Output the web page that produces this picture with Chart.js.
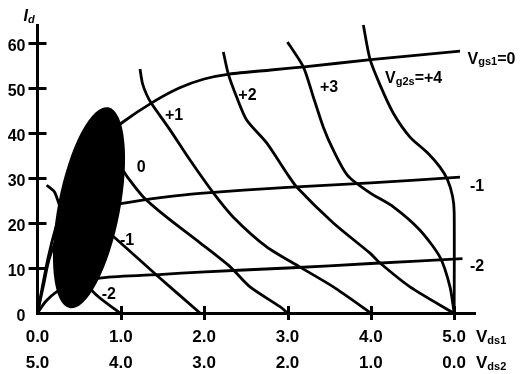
<!DOCTYPE html>
<html>
<head>
<meta charset="utf-8">
<script src="https://cdn.jsdelivr.net/npm/chart.js@4.4.1/dist/chart.umd.min.js"></script>
<style>
  html, body { margin: 0; padding: 0; background: #fff; }
</style>
</head>
<body>
<canvas id="chart" width="523" height="374"></canvas>
<script>
// Drain current Id (mA) of the stacked pair versus Vds1 (V); Vds2 = 5 - Vds1.
const vds1Ticks = ['0.0', '1.0', '2.0', '3.0', '4.0', '5.0'];
const vds2Ticks = ['5.0', '4.0', '3.0', '2.0', '1.0', '0.0'];
const idTicks = ['0', '10', '20', '30', '40', '50', '60'];

// Constant-Vgs1 curves, [Vds1, Id]
const vgs1Zero = [[0, 0], [0.06, 6], [0.13, 12.5], [0.22, 19], [0.35, 26.5], [0.55, 33.5], [0.8, 39], [1.03, 42.5],
  [1.37, 46.7], [1.7, 50.0], [2.0, 52.0], [2.3, 53.1], [2.8, 54.0], [3.2, 54.7], [4.0, 56.3], [5.07, 58.2]];
const vgs1Minus1 = [[0, 0], [0.07, 6], [0.14, 12], [0.25, 17], [0.45, 21], [0.7, 23.2], [1.0, 24.3], [1.5, 25.7],
  [1.95, 26.6], [3.0, 27.9], [4.0, 28.9], [5.07, 30.2]];
const vgs1Minus2 = [[0, 0], [0.1, 2.6], [0.22, 4.6], [0.4, 6.3], [0.77, 7.8], [1.5, 8.6], [1.95, 9.1], [3.0, 10.0],
  [4.0, 11.0], [5.1, 12.1]];

// Constant-Vg2s curves, [Vds1, Id]
const vg2sPlus4 = [[3.91, 64.0], [3.99, 56.4], [4.11, 50.7], [4.27, 44.4], [4.47, 39.1], [4.68, 35.6], [4.83, 32.4],
  [4.92, 29.6], [4.98, 26], [5.0, 22.5], [5.0, 0]];
const vg2sPlus3 = [[3.0, 60.2], [3.19, 54.7], [3.31, 48], [3.43, 41.3], [3.55, 36.2], [3.72, 30.6], [3.99, 26.7],
  [4.27, 23.6], [4.59, 18.4], [4.83, 12.4], [4.95, 5.8], [5.0, 0]];
const vg2sPlus2 = [[2.23, 58], [2.29, 53.1], [2.39, 48], [2.51, 42.9], [2.75, 37.8], [2.99, 31.1], [3.11, 28],
  [3.55, 20], [3.99, 13.3], [4.11, 11.1], [4.47, 5.8], [4.99, 0]];
const vg2sPlus1 = [[1.23, 54.2], [1.26, 51], [1.31, 48.5], [1.37, 46.5], [1.59, 40.7], [1.83, 34], [2.11, 26.7],
  [2.35, 21.3], [2.75, 14.7], [3.15, 10.2], [3.55, 5.8], [4.0, 0]];
const vg2sZero = [[1.0, 32.5], [1.08, 30.2], [1.27, 25.8], [1.55, 21.3], [1.95, 15.6], [2.31, 10.3], [2.55, 5.8],
  [2.91, 1.4], [3.0, 0]];
const vg2sMinus1 = [[0.8, 18.5], [0.91, 17], [1.43, 8.4], [1.95, 0]];
const vg2sMinus2 = [[0.11, 28.4], [0.21, 26.7], [0.4, 16], [0.65, 5.1], [0.99, 0]];

const curves = [vgs1Zero, vgs1Minus1, vgs1Minus2, vg2sPlus4, vg2sPlus3, vg2sPlus2, vg2sPlus1, vg2sZero, vg2sMinus1, vg2sMinus2];

// Curve annotations: text ('|' toggles subscript) anchored at [Vds1, Id]
const curveLabels = [
  { text: 'V|gs1|=0', at: [5.16, 56.4] },
  { text: 'V|g2s|=+4', at: [4.17, 52.0] },
  { text: '+3', at: [3.39, 50.0] },
  { text: '+2', at: [2.41, 48.4] },
  { text: '+1', at: [1.53, 43.8] },
  { text: '0', at: [1.19, 32.4] },
  { text: '-1', at: [0.99, 16.2] },
  { text: '-2', at: [0.77, 4.2] },
  { text: '-1', at: [5.19, 28.2] },
  { text: '-2', at: [5.19, 10.4] }
];

// Shaded operating region: centre and tip of the long axis, [Vds1, Id]
const regionCentre = [0.618, 23.4];
const regionTip = [0.85, 45.7];
const regionHalfWidth = 31;

const FONT = '"Liberation Sans", Arial, Helvetica, sans-serif';
const X_FONT_SIZE = 17;
const X_LINE_HEIGHT = 1.5;
const X_PAD = 12;

function drawRich(ctx, text, x, y, size, subSize, italic) {
  const parts = text.split('|');
  let cx = x;
  parts.forEach((p, i) => {
    if (!p) return;
    const sub = i % 2 === 1;
    const s = sub ? subSize : size;
    ctx.font = `${italic ? 'italic ' : ''}bold ${s}px ${FONT}`;
    ctx.fillText(p, cx, y + (sub ? size * 0.2 : 0));
    cx += ctx.measureText(p).width;
  });
}

const decorations = {
  id: 'decorations',
  afterDatasetsDraw(chart) {
    const ctx = chart.ctx;
    const xs = chart.scales.x, ys = chart.scales.y;
    const px = v => xs.getPixelForValue(v);
    const py = v => ys.getPixelForValue(v);
    ctx.save();
    ctx.fillStyle = '#000';
    ctx.strokeStyle = '#000';

    // filled region
    const cx = px(regionCentre[0]), cy = py(regionCentre[1]);
    const tx = px(regionTip[0]), ty = py(regionTip[1]);
    ctx.beginPath();
    ctx.ellipse(cx, cy, Math.hypot(tx - cx, ty - cy), regionHalfWidth, Math.atan2(ty - cy, tx - cx), 0, Math.PI * 2);
    ctx.fill();

    // cross-shaped tick marks
    ctx.lineWidth = 3;
    ctx.beginPath();
    xs.ticks.forEach(t => {
      if (t.value === 0) return;
      const x = Math.round(px(t.value)) + 0.5;
      ctx.moveTo(x, ys.bottom - 7);
      ctx.lineTo(x, ys.bottom + 7);
    });
    ys.ticks.forEach(t => {
      if (t.value === 0) return;
      const y = Math.round(py(t.value)) + 0.5;
      ctx.moveTo(xs.left - 9, y);
      ctx.lineTo(xs.left + 9, y);
    });
    ctx.stroke();

    // curve labels
    ctx.textBaseline = 'middle';
    ctx.textAlign = 'left';
    curveLabels.forEach(l => drawRich(ctx, l.text, px(l.at[0]), py(l.at[1]), 16, 11, false));

    // axis titles
    const lh = X_FONT_SIZE * X_LINE_HEIGHT;
    const row1 = xs.top + X_PAD + lh / 2;
    drawRich(ctx, 'V|ds1', xs.right + 1, row1, 17, 11, false);
    drawRich(ctx, 'V|ds2', xs.right + 1, row1 + lh, 17, 11, false);
    drawRich(ctx, 'I|d', xs.left - 14, ys.top - 8, 16, 11, true);
    ctx.restore();
  }
};

new Chart(document.getElementById('chart'), {
  type: 'scatter',
  data: {
    datasets: curves.map(c => ({
      data: c.map(([x, y]) => ({ x, y })),
      showLine: true,
      borderColor: '#000',
      borderWidth: 2.8,
      pointRadius: 0,
      tension: 0.25,
      fill: false,
      clip: false
    }))
  },
  options: {
    responsive: false,
    animation: false,
    devicePixelRatio: 1,
    layout: { padding: { left: 0, right: 48, top: 25, bottom: 0 } },
    plugins: { legend: { display: false }, tooltip: { enabled: false } },
    events: [],
    scales: {
      x: {
        type: 'linear',
        min: 0,
        max: 5.25,
        afterFit(s) { s.height = 61; },
        grid: { display: false, drawTicks: false },
        border: { display: true, color: '#000', width: 3 },
        ticks: {
          stepSize: 1,
          includeBounds: false,
          autoSkip: false,
          maxRotation: 0,
          padding: X_PAD,
          color: '#000',
          font: { family: FONT, size: X_FONT_SIZE, weight: 'bold', lineHeight: X_LINE_HEIGHT },
          callback: (v) => {
            const i = Math.round(v);
            return Math.abs(v - i) < 1e-6 && i < vds1Ticks.length ? [vds1Ticks[i], vds2Ticks[i]] : '';
          }
        }
      },
      y: {
        type: 'linear',
        min: 0,
        max: 64,
        afterFit(s) { s.width = 37.5; },
        grid: { display: false, drawTicks: false },
        border: { display: true, color: '#000', width: 3 },
        ticks: {
          stepSize: 10,
          includeBounds: false,
          padding: 12,
          labelOffset: 4,
          color: '#000',
          font: { family: FONT, size: 16, weight: 'bold' },
          callback: (v) => {
            const i = Math.round(v / 10);
            return Math.abs(v - i * 10) < 1e-6 && i < idTicks.length ? idTicks[i] : '';
          }
        }
      }
    }
  },
  plugins: [decorations]
});
</script>
</body>
</html>
